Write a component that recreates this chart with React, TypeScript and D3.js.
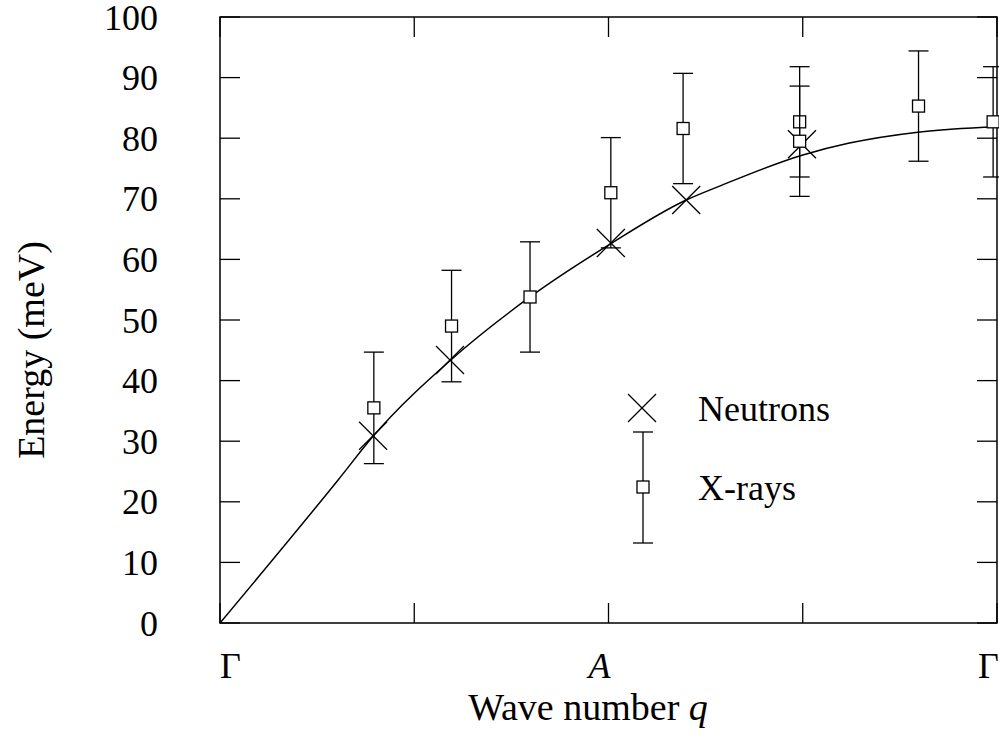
import React from "react";
import * as d3 from "d3";

// Fitted dispersion curve
const curveQ = [0, 0.152, 0.197, 0.297, 0.399, 0.503, 0.6, 0.643, 0.749, 0.81, 0.898, 1.0];
const curveE = [0, 23.6, 30.8, 43.4, 53.8, 62.6, 69.8, 72.1, 77.2, 79.2, 81.0, 81.9];

// Neutron data
const neutronQ = [0.197, 0.296, 0.503, 0.6, 0.749];
const neutronE = [30.9, 43.4, 62.7, 69.8, 79.0];

// X-ray data
const xrayQ = [0.198, 0.298, 0.399, 0.503, 0.596, 0.746, 0.746, 0.899, 0.995];
const xrayE = [35.5, 49.0, 53.8, 71.0, 81.6, 82.7, 79.5, 85.3, 82.7];
const xrayErr = [9.2, 9.2, 9.1, 9.1, 9.1, 9.1, 9.1, 9.1, 9.1];

// Axis ticks
const yTicks = [0, 10, 20, 30, 40, 50, 60, 70, 80, 90, 100];
const xTicks = [0, 0.25, 0.5, 0.75, 1];
const xLabelValues = [0, 0.5, 1];
const xLabelTexts = ["Γ", "A", "Γ"];
const xLabelItalic = [false, true, false];
const xLabelOffsets = [0, -20, -19];

const W = 999;
const H = 744;
const left = 220;
const right = 997;
const top = 17;
const bottom = 623;
const FONT = "'Liberation Serif', 'Times New Roman', serif";

export default function App() {
  const x = d3.scaleLinear().domain([0, 1]).range([left, right]);
  const y = d3.scaleLinear().domain([0, 100]).range([bottom, top]);
  const tick = 20;
  const fs = 36;
  const fsTitle = 38;

  const line = d3
    .line<number>()
    .x((_, i) => x(curveQ[i]))
    .y((d) => y(d))
    .curve(d3.curveMonotoneX);

  const cross = (cx: number, cy: number, key: string) => {
    const s = 14;
    return (
      <g key={key} stroke="#000" strokeWidth={1.3}>
        <line x1={cx - s} y1={cy - s} x2={cx + s} y2={cy + s} />
        <line x1={cx - s} y1={cy + s} x2={cx + s} y2={cy - s} />
      </g>
    );
  };

  const errBar = (cx: number, cy: number, yt: number, yb: number, key: string) => {
    const cap = 10;
    const sq = 6;
    return (
      <g key={key} stroke="#000" strokeWidth={1.3} fill="#fff">
        <line x1={cx} y1={yt} x2={cx} y2={yb} />
        <line x1={cx - cap} y1={yt} x2={cx + cap} y2={yt} />
        <line x1={cx - cap} y1={yb} x2={cx + cap} y2={yb} />
        <rect x={cx - sq} y={cy - sq} width={sq * 2} height={sq * 2} />
      </g>
    );
  };

  return (
    <svg
      width={W}
      height={H}
      style={{ position: "absolute", left: 0, top: 0, display: "block", background: "#fff" }}
      fontFamily={FONT}
    >
      <rect x={0} y={0} width={W} height={H} fill="#fff" />
      {/* y ticks */}
      {yTicks.map((t) => (
        <g key={"y" + t}>
          <line x1={left} x2={left + tick} y1={y(t)} y2={y(t)} stroke="#000" strokeWidth={1.3} />
          <line x1={right} x2={right - tick} y1={y(t)} y2={y(t)} stroke="#000" strokeWidth={1.3} />
          <text x={left - 62} y={y(t)} dy="0.35em" textAnchor="end" fontSize={fs}>
            {t}
          </text>
        </g>
      ))}
      {/* x ticks */}
      {xTicks.map((t) => (
        <g key={"x" + t}>
          <line x1={x(t)} x2={x(t)} y1={bottom} y2={bottom - tick} stroke="#000" strokeWidth={1.3} />
          <line x1={x(t)} x2={x(t)} y1={top} y2={top + tick} stroke="#000" strokeWidth={1.3} />
        </g>
      ))}
      {xLabelValues.map((v, i) => (
        <text
          key={"xl" + i}
          x={x(v) + xLabelOffsets[i]}
          y={678}
          textAnchor="start"
          fontSize={fs}
          fontStyle={xLabelItalic[i] ? "italic" : "normal"}
        >
          {xLabelTexts[i]}
        </text>
      ))}
      {/* frame */}
      <rect x={left} y={top} width={right - left} height={bottom - top} fill="none" stroke="#000" strokeWidth={1.5} />

      {/* curve */}
      <path d={line(curveE) || ""} fill="none" stroke="#000" strokeWidth={1.5} />

      {/* neutrons */}
      {neutronQ.map((q, i) => cross(x(q), y(neutronE[i]), "n" + i))}

      {/* x-rays */}
      {xrayQ.map((q, i) =>
        errBar(x(q), y(xrayE[i]), y(xrayE[i] + xrayErr[i]), y(xrayE[i] - xrayErr[i]), "x" + i)
      )}

      {/* legend */}
      {cross(642, 408, "legN")}
      <text x={698} y={421} fontSize={fs}>
        Neutrons
      </text>
      {errBar(643, 487, 432, 543, "legX")}
      <text x={698} y={500} fontSize={fs}>
        X-rays
      </text>

      {/* axis titles */}
      <text
        transform={`translate(44, 350) rotate(-90)`}
        textAnchor="middle"
        fontSize={fsTitle}
      >
        Energy (meV)
      </text>
      <text x={588} y={720} textAnchor="middle" fontSize={fsTitle}>
        Wave number <tspan fontStyle="italic">q</tspan>
      </text>
    </svg>
  );
}
